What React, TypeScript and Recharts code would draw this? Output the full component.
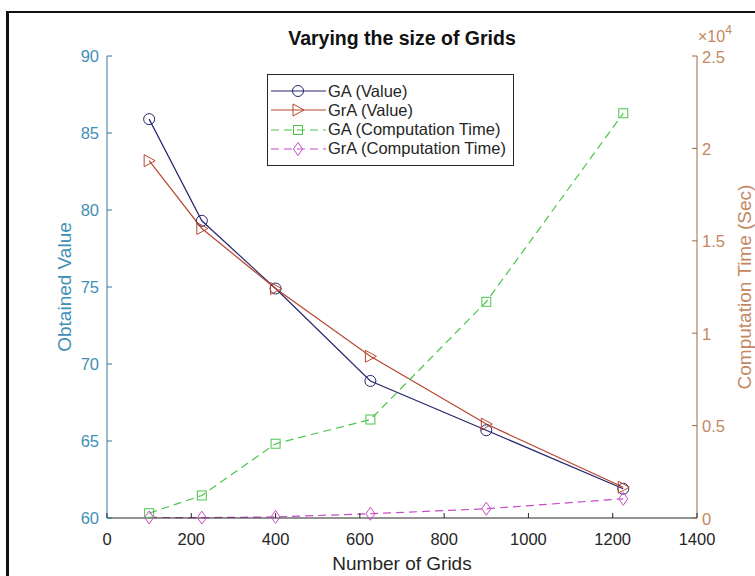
import { LineChart, Line, XAxis, YAxis, Legend, Label } from 'recharts';

// grid counts (10x10, 15x15, ... 35x35)
const grids = [100, 225, 400, 625, 900, 1225];
const gaValue = [85.9, 79.3, 74.9, 68.9, 65.7, 61.9];
const graValue = [83.2, 78.8, 74.9, 70.5, 66.1, 62.0];
const gaTime = [260, 1220, 4020, 5330, 11700, 21900];
const graTime = [30, 20, 60, 230, 500, 1040];

const xTicks = [0, 200, 400, 600, 800, 1000, 1200, 1400];
const valueTicks = [60, 65, 70, 75, 80, 85, 90];
const timeTicks = [0, 5000, 10000, 15000, 20000, 25000];

const FONT = '"Liberation Sans", Arial, Helvetica, sans-serif';
const AXIS = '#262626';
const LEFT_TEXT = '#3f8fb5';
const LEFT_LINE = '#35789e';
const RIGHT_TEXT = '#c4875f';
const RIGHT_LINE = '#9a6a45';
const PLOT_TOP = 56;

const rows = grids.map((g, i) => ({
    grids: g,
    gaValue: gaValue[i],
    graValue: graValue[i],
    gaTime: gaTime[i],
    graTime: graTime[i],
}));

const series = [
    { key: 'gaValue', name: 'GA (Value)', axis: 'value', color: '#26266e', dash: undefined, marker: 'circle' },
    { key: 'graValue', name: 'GrA (Value)', axis: 'value', color: '#b8462f', dash: undefined, marker: 'triangle' },
    { key: 'gaTime', name: 'GA (Computation Time)', axis: 'time', color: '#4cc44c', dash: '8 5', marker: 'square' },
    { key: 'graTime', name: 'GrA (Computation Time)', axis: 'time', color: '#c64cc6', dash: '8 5', marker: 'diamond' },
];

function Marker({ shape, cx, cy, color }: any) {
    const common = { fill: 'none', stroke: color, strokeWidth: 1 };
    if (shape === 'circle') return <circle cx={cx} cy={cy} r={5.5} {...common} />;
    if (shape === 'triangle')
        return <polygon points={`${cx - 5},${cy - 6} ${cx + 6},${cy} ${cx - 5},${cy + 6}`} {...common} />;
    if (shape === 'square') return <rect x={cx - 4.5} y={cy - 4.5} width={9} height={9} {...common} />;
    return <polygon points={`${cx},${cy - 6.5} ${cx + 4.5},${cy} ${cx},${cy + 6.5} ${cx - 4.5},${cy}`} {...common} />;
}

function BottomTick({ x, y, payload }: any) {
    return (
        <g>
            <line x1={x} y1={y} x2={x} y2={y - 5} stroke={AXIS} />
            <text x={x} y={y + 27} textAnchor="middle" fontSize={16.5} fill={AXIS} fontFamily={FONT}>
                {payload.value}
            </text>
        </g>
    );
}

function TopTick({ x, y }: any) {
    return <line x1={x} y1={y} x2={x} y2={y + 5} stroke={AXIS} />;
}

function ValueTick({ x, y, payload }: any) {
    return (
        <g>
            <line x1={x + 8} y1={y} x2={x + 13} y2={y} stroke={LEFT_LINE} />
            <text x={x} y={y} dy="0.36em" textAnchor="end" fontSize={16.5} fill={LEFT_TEXT} fontFamily={FONT}>
                {payload.value}
            </text>
        </g>
    );
}

function TimeTick({ x, y, payload }: any) {
    return (
        <g>
            <line x1={x - 5} y1={y} x2={x - 10} y2={y} stroke={RIGHT_LINE} />
            <text x={x} y={y} dy="0.4em" textAnchor="start" fontSize={16.5} fill={RIGHT_TEXT} fontFamily={FONT}>
                {payload.value / 10000}
            </text>
        </g>
    );
}

// bottom axis label, plus the chart title centred over the same span
function XTitle({ viewBox }: any) {
    const vb = viewBox || { x: 107, y: 518, width: 590 };
    const cx = vb.x + vb.width / 2;
    return (
        <g>
            <text x={cx} y={PLOT_TOP - 11} textAnchor="middle" fontSize={19.5} fontWeight="bold" fill="#111" fontFamily={FONT}>
                Varying the size of Grids
            </text>
            <text x={cx} y={vb.y + 52} textAnchor="middle" fontSize={19} fill={AXIS} fontFamily={FONT}>
                Number of Grids
            </text>
        </g>
    );
}

function LeftTitle({ viewBox }: any) {
    const vb = viewBox || { x: 0, y: 56, height: 462 };
    const cx = vb.x + 64;
    const cy = vb.y + vb.height / 2;
    return (
        <text x={cx} y={cy} transform={`rotate(-90, ${cx}, ${cy})`} textAnchor="middle" dominantBaseline="central" fontSize={19} fill={LEFT_TEXT} fontFamily={FONT}>
            Obtained Value
        </text>
    );
}

function RightTitle({ viewBox }: any) {
    const vb = viewBox || { x: 697, y: 56, height: 462 };
    const cx = vb.x + 47;
    const cy = vb.y + vb.height / 2;
    return (
        <g>
            <text x={cx} y={cy} transform={`rotate(-90, ${cx}, ${cy})`} textAnchor="middle" dominantBaseline="central" fontSize={19} fill={RIGHT_TEXT} fontFamily={FONT}>
                Computation Time (Sec)
            </text>
            <text x={vb.x + 1} y={vb.y - 14} fontSize={16} fill={RIGHT_TEXT} fontFamily={FONT}>
                ×10
                <tspan dy={-8} fontSize={12}>4</tspan>
            </text>
        </g>
    );
}

function LegendBox() {
    return (
        <div
            style={{
                position: 'relative',
                width: 247,
                height: 92,
                boxSizing: 'border-box',
                border: `1px solid ${AXIS}`,
                background: '#fff',
                fontFamily: FONT,
                fontSize: 16.5,
                color: AXIS,
            }}
        >
            {series.map((s, i) => (
                <div
                    key={s.key}
                    style={{
                        position: 'absolute',
                        left: 2,
                        top: 6 + i * 19.3,
                        height: 20,
                        display: 'flex',
                        alignItems: 'center',
                        whiteSpace: 'nowrap',
                    }}
                >
                    <svg width={57} height={20}>
                        <line x1={1} y1={10} x2={56} y2={10} stroke={s.color} strokeWidth={1.2} strokeDasharray={s.dash} />
                        <Marker shape={s.marker} cx={28} cy={10} color={s.color} />
                    </svg>
                    <span style={{ marginLeft: 1 }}>{s.name}</span>
                </div>
            ))}
        </div>
    );
}

export default function App() {
    return (
        <div
            style={{
                position: 'absolute',
                left: 0,
                top: 0,
                width: 755,
                height: 576,
                overflow: 'hidden',
                background: '#fff',
                fontFamily: FONT,
            }}
        >
            <div
                style={{
                    position: 'absolute',
                    left: 6,
                    top: 11,
                    width: 800,
                    height: 600,
                    borderTop: '2px solid #111',
                    borderLeft: '3px solid #111',
                }}
            />
            <div style={{ position: 'absolute', left: 0, top: 0 }}>
                <LineChart width={755} height={576} data={rows} margin={{ top: PLOT_TOP, right: 0, bottom: 0, left: 0 }}>
                    <XAxis
                        xAxisId="bottom"
                        dataKey="grids"
                        type="number"
                        domain={[0, 1400]}
                        ticks={xTicks}
                        interval={0}
                        height={58}
                        tickSize={0}
                        tickMargin={0}
                        tickLine={false}
                        tick={<BottomTick />}
                        axisLine={{ stroke: AXIS }}
                    >
                        <Label content={<XTitle />} />
                    </XAxis>
                    <XAxis
                        xAxisId="top"
                        orientation="top"
                        type="number"
                        domain={[0, 1400]}
                        ticks={xTicks}
                        interval={0}
                        height={0}
                        tickSize={0}
                        tickMargin={0}
                        tickLine={false}
                        tick={<TopTick />}
                        axisLine={{ stroke: AXIS }}
                    />
                    <YAxis
                        yAxisId="value"
                        orientation="left"
                        type="number"
                        domain={[60, 90]}
                        ticks={valueTicks}
                        interval={0}
                        width={107}
                        tickSize={0}
                        tickMargin={8}
                        tickLine={false}
                        tick={<ValueTick />}
                        axisLine={{ stroke: LEFT_LINE }}
                    >
                        <Label content={<LeftTitle />} />
                    </YAxis>
                    <YAxis
                        yAxisId="time"
                        orientation="right"
                        type="number"
                        domain={[0, 25000]}
                        ticks={timeTicks}
                        interval={0}
                        width={58}
                        tickSize={0}
                        tickMargin={5}
                        tickLine={false}
                        tick={<TimeTick />}
                        axisLine={{ stroke: RIGHT_LINE }}
                    >
                        <Label content={<RightTitle />} />
                    </YAxis>
                    <Legend
                        layout="vertical"
                        align="center"
                        verticalAlign="middle"
                        content={() => <LegendBox />}
                        wrapperStyle={{ left: 267, top: 74, width: 247, height: 92, margin: 0 }}
                    />
                    {series.map((s) => (
                        <Line
                            key={s.key}
                            xAxisId="bottom"
                            yAxisId={s.axis}
                            type="linear"
                            dataKey={s.key}
                            name={s.name}
                            stroke={s.color}
                            strokeWidth={1.2}
                            strokeDasharray={s.dash}
                            dot={(p: any) => (
                                <Marker key={`${s.key}-${p.index}`} shape={s.marker} cx={p.cx} cy={p.cy} color={s.color} />
                            )}
                            activeDot={false}
                            isAnimationActive={false}
                        />
                    ))}
                </LineChart>
            </div>
        </div>
    );
}
